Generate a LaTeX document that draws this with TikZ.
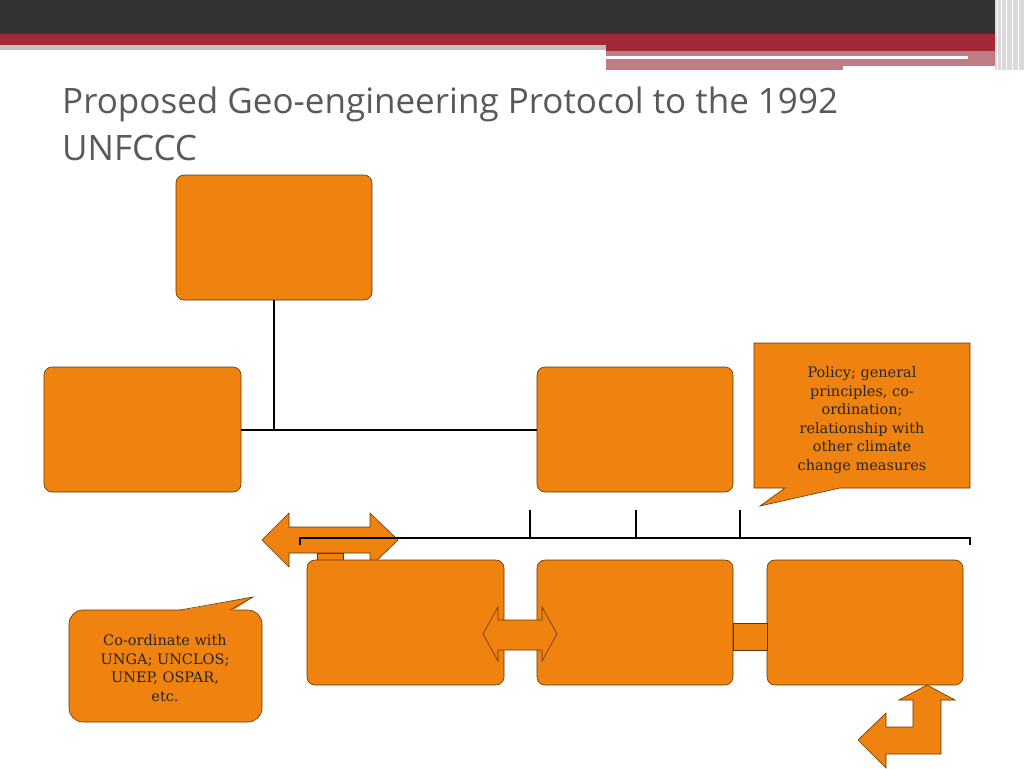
\documentclass[tikz,border=0pt]{standalone}
\usepackage{fontspec}
\setmainfont{DejaVu Serif}
\newfontfamily\titlefont{Open Sans}
\begin{document}
\begin{tikzpicture}[x=1pt,y=-1pt,
  box/.style={draw=orange!40!black,fill=boxor,line width=0.6pt,rounded corners=8pt},
  sh/.style={draw=orange!40!black,fill=boxor,line width=0.6pt},
  txt/.style={font=\fontsize{14.5}{18.5}\selectfont,align=center,text=black!85},
  ln/.style={line width=2pt,black}]
\definecolor{boxor}{HTML}{F0820F}
\definecolor{bar}{HTML}{333333}
\definecolor{red1}{HTML}{A22A38}
\definecolor{pink1}{HTML}{BE7C85}
\useasboundingbox (0,0) rectangle (1024,768);
\fill[white] (0,0) rectangle (1024,768);
% header
\fill[bar] (0,0) rectangle (1024,34);
\fill[red1] (0,34) rectangle (1024,45);
\fill[red1] (606,45) rectangle (1000,51);
\fill[black!25] (0,45) rectangle (606,50);
\fill[pink1] (606,51) rectangle (1000,70);
\fill[white] (606,56) rectangle (968,59);
\fill[white] (843,66) rectangle (1000,70);
\fill[black!15] (995,0) rectangle (1024,70);
\foreach \x in {997,1001,1006,1012,1018} \fill[white] (\x,0) rectangle (\x+1.2,70);
% title
\node[anchor=base west,inner sep=0,font=\titlefont\fontsize{35}{40}\selectfont,text=black!65] (t1) at (62,113) {Proposed Geo-engineering Protocol to the 1992};
\node[anchor=base west,inner sep=0,font=\titlefont\fontsize{35}{40}\selectfont,text=black!65] (t2) at (62,160) {UNFCCC};
% boxes
\draw[box] (176,175) rectangle (372,300) node[pos=.5] (top) {};
\draw[box] (44,367) rectangle (241,492) node[pos=.5] (left) {};
\draw[box] (537,367) rectangle (733,492) node[pos=.5] (mid) {};
\coordinate (tb) at (274,300);
\coordinate (j) at (274,430);
\draw[ln] (tb) -- (j);
\draw[ln] (241,430) -- (537,430);
% callout right
\draw[sh] (754,343) -- (970,343) -- (970,488) -- (840,488) -- (760,506) -- (785,488) -- (754,488) -- cycle;
\node[txt] (c1) at (862,420) {Policy; general\\principles, co-\\ordination;\\relationship with\\other climate\\change measures};
% left double arrow
\draw[sh] (262,540) -- (289,513) -- (289,527) -- (370,527) -- (370,513) -- (398,540) -- (370,567) -- (370,553) -- (289,553) -- (289,567) -- cycle;
\draw[sh] (317,553) rectangle (343,562);
% bracket
\draw[ln] (300,545) -- (300,538) -- (970,538) -- (970,545);
\foreach \x in {530,636,740} \draw[ln] (\x,510) -- (\x,538);
% bottom boxes
\draw[box] (307,560) rectangle (504,685) node[pos=.5] (b1) {};
\draw[box] (537,560) rectangle (733,685) node[pos=.5] (b2) {};
\draw[box] (767,560) rectangle (963,685) node[pos=.5] (b3) {};
\draw[sh] (733,623) rectangle (767,650);
\draw[sh] (483,634) -- (498,607) -- (498,620) -- (542,620) -- (542,607) -- (557,634) -- (542,661) -- (542,650) -- (498,650) -- (498,661) -- cycle;
% left callout
\draw[sh,rounded corners=14pt] (180,610) -- (262,610) -- (262,722) -- (69,722) -- (69,610) -- (180,610);
\fill[boxor] (178,611) -- (253,597) -- (232,611) -- cycle;
\draw[orange!40!black,line width=0.6pt] (180,610) -- (253,597) -- (230,610);
\node[txt] (c2) at (165,668) {Co-ordinate with\\UNGA; UNCLOS;\\UNEP, OSPAR,\\etc.};
% bent arrow
\draw[sh] (927,685) -- (955,700) -- (941,700) -- (941,754) -- (886,754) -- (886,768) -- (858,740) -- (886,713) -- (886,727) -- (913,727) -- (913,700) -- (899,700) -- cycle;
\end{tikzpicture}
\end{document}
